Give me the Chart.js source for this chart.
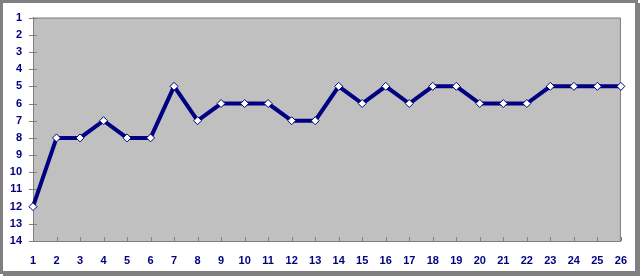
<!DOCTYPE html>
<html>
<head>
<meta charset="utf-8">
<script src="https://cdn.jsdelivr.net/npm/chart.js@4/dist/chart.umd.min.js"></script>
<style>
  body { margin: 0; background: #fff; }
  #wrap { position: relative; width: 640px; height: 276px; }
  #frame {
    position: absolute; left: 0; top: 0;
    width: 632px; height: 268px;
    border: 3px solid #808080;
    box-shadow: 3px 3px 0 #808080;
    pointer-events: none;
  }
  canvas { position: absolute; left: 0; top: 0; }
</style>
</head>
<body>
<div id="wrap">
  <canvas id="chart" width="640" height="276"></canvas>
  <div id="frame"></div>
</div>
<script>
var labels = ['1','2','3','4','5','6','7','8','9','10','11','12','13','14','15','16','17','18','19','20','21','22','23','24','25','26'];
var values = [12, 8, 8, 7, 8, 8, 5, 7, 6, 6, 6, 7, 7, 5, 6, 5, 6, 5, 5, 6, 6, 6, 5, 5, 5, 5];

var navy = '#000080';
var axisGray = '#808080';

// gray plot area with a thin border, plus Excel-like tick marks
var plotArea = {
    id: 'plotArea',
    beforeDraw: function(chart) {
        var a = chart.chartArea, ctx = chart.ctx;
        ctx.save();
        ctx.fillStyle = '#c0c0c0';
        ctx.fillRect(a.left, a.top, a.right - a.left, a.bottom - a.top);
        ctx.strokeStyle = axisGray;
        ctx.lineWidth = 1;
        ctx.strokeRect(a.left + 0.5, a.top + 0.5, a.right - a.left - 1, a.bottom - a.top);
        ctx.restore();
    },
    beforeDatasetsDraw: function(chart) {
        var a = chart.chartArea, ctx = chart.ctx;
        var xs = chart.scales.x, ys = chart.scales.y;
        ctx.save();
        ctx.strokeStyle = axisGray;
        ctx.lineWidth = 1;
        ctx.beginPath();
        xs.ticks.forEach(function(t, i) {
            var px = Math.round(xs.getPixelForTick(i)) + 0.5;
            ctx.moveTo(px, a.bottom - 4);
            ctx.lineTo(px, a.bottom);
        });
        ys.ticks.forEach(function(t, i) {
            var py = Math.round(ys.getPixelForTick(i)) + 0.5;
            ctx.moveTo(a.left - 4, py);
            ctx.lineTo(a.left + 4, py);
        });
        ctx.stroke();
        ctx.restore();
    }
};

new Chart(document.getElementById('chart'), {
    type: 'line',
    data: {
        labels: labels,
        datasets: [{
            data: values,
            borderColor: navy,
            borderWidth: 4,
            tension: 0,
            clip: false,
            pointStyle: 'rectRot',
            pointRadius: 4,
            pointBackgroundColor: '#fff',
            pointBorderColor: navy,
            pointBorderWidth: 1
        }]
    },
    options: {
        responsive: false,
        animation: false,
        layout: { padding: { left: 0, right: 17, top: 15, bottom: 5 } },
        plugins: { legend: { display: false }, tooltip: { enabled: false } },
        scales: {
            x: {
                offset: false,
                grid: { display: false, drawTicks: false },
                border: { color: axisGray },
                ticks: {
                    color: navy,
                    font: { family: 'Arial, "Liberation Sans"', size: 11, weight: 'bold' },
                    padding: 13,
                    maxRotation: 0,
                    autoSkip: false
                },
                afterFit: function(s) { s.height = 30; }
            },
            y: {
                reverse: true,
                min: 1,
                max: 14,
                grid: { display: false, drawTicks: false },
                border: { color: axisGray },
                ticks: {
                    stepSize: 1,
                    color: navy,
                    font: { family: 'Arial, "Liberation Sans"', size: 11, weight: 'bold' },
                    padding: 11
                },
                afterFit: function(s) { s.width = 33; }
            }
        }
    },
    plugins: [plotArea]
});
</script>
</body>
</html>
